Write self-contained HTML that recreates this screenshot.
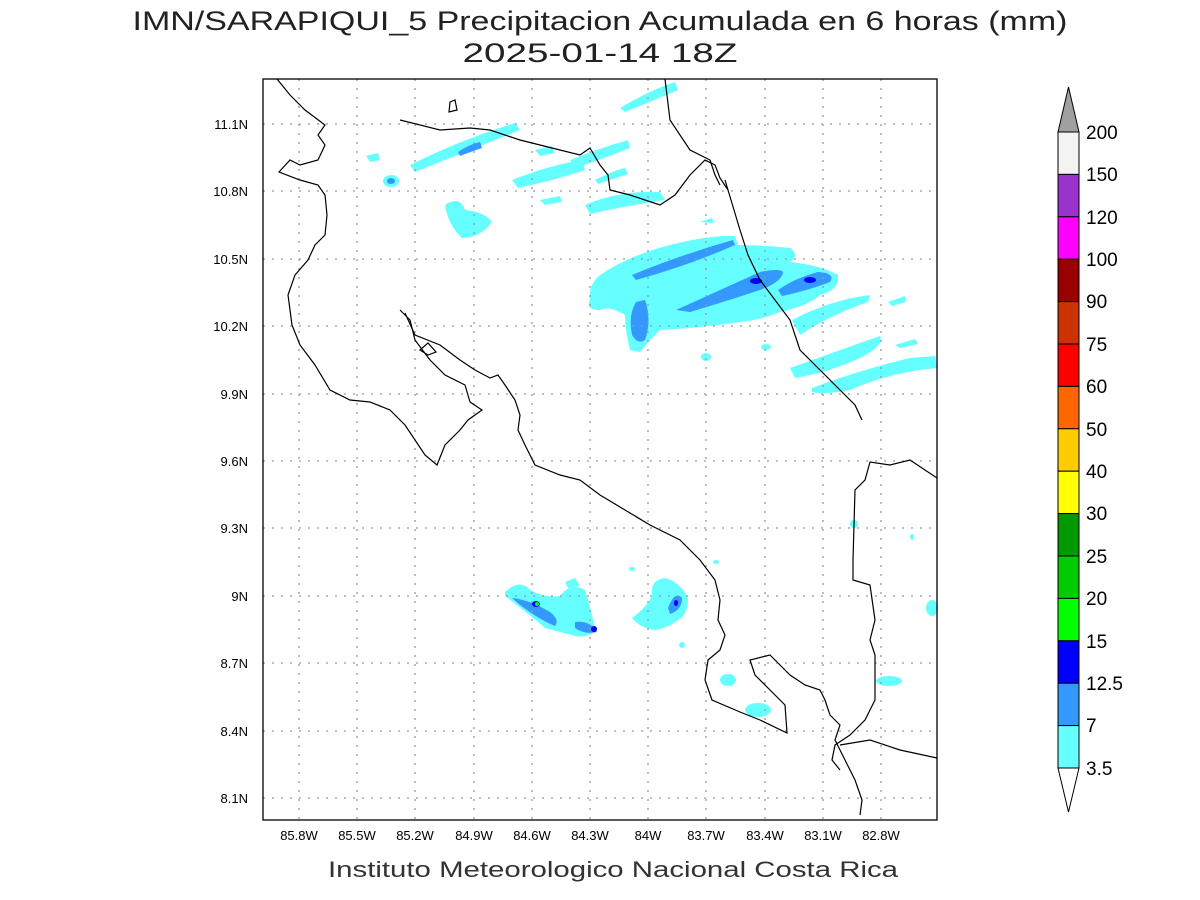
<!DOCTYPE html>
<html><head><meta charset="utf-8"><style>
body{margin:0;background:#fff;}
svg{display:block;font-family:"Liberation Sans",sans-serif;}
</style></head><body>
<svg width="1200" height="900" viewBox="0 0 1200 900" xmlns="http://www.w3.org/2000/svg">
<rect width="1200" height="900" fill="#fff"/>
<text x="600" y="30" font-size="27" text-anchor="middle" fill="#222" textLength="935" lengthAdjust="spacingAndGlyphs">IMN/SARAPIQUI_5 Precipitacion Acumulada en 6 horas (mm)</text>
<text x="600" y="62" font-size="27" text-anchor="middle" fill="#222" textLength="275" lengthAdjust="spacingAndGlyphs">2025-01-14 18Z</text>

<!-- precipitation -->
<g fill="#66ffff">
<path d="M620 108 Q650 90 675 82 L678 90 Q650 102 625 112Z"/>
<path d="M410 165 Q460 140 515 123 L520 130 Q470 150 415 172Z"/>
<path d="M366 156 L378 153 L380 160 L370 162Z"/>
<ellipse cx="391" cy="181" rx="8" ry="6"/>
<path d="M445 205 Q460 195 465 210 Q485 212 492 222 Q480 238 462 238 Q448 225 445 205Z"/>
<path d="M512 180 Q550 165 582 160 L585 170 Q555 180 518 188Z"/>
<path d="M535 150 L552 146 L554 153 L540 156Z"/>
<path d="M570 160 Q600 148 628 140 L630 148 Q600 160 575 168Z"/>
<path d="M595 180 Q615 170 625 168 L628 174 Q610 180 598 184Z"/>
<path d="M585 205 Q620 190 660 192 L665 200 Q630 205 590 214Z"/>
<path d="M540 200 L560 196 L562 202 L545 205Z"/>
<path d="M700 222 L712 218 L714 223 Z"/>
<path d="M590 300 Q588 285 600 275 Q630 255 670 245 Q710 235 735 236 L738 245 Q760 245 790 248 Q800 255 790 262 Q820 265 838 275 Q840 290 820 295 Q810 305 780 312 Q760 320 740 322 Q700 328 660 330 Q645 345 640 352 L630 350 Q625 330 625 315 Q608 305 600 310 Q585 310 590 300Z"/>
<path d="M792 320 Q830 300 870 295 L868 302 Q830 315 800 335Z"/>
<path d="M888 302 L905 296 L906 302 L892 306Z"/>
<path d="M790 368 Q840 350 880 336 Q885 345 860 358 Q830 372 795 378Z"/>
<path d="M812 388 Q860 370 910 358 L935 356 L937 368 Q890 372 850 390 Q825 395 812 392Z"/>
<path d="M895 345 L915 339 L918 344 L900 348Z"/>
<ellipse cx="706" cy="357" rx="5" ry="4"/>
<ellipse cx="766" cy="347" rx="5" ry="3"/>
<path d="M505 592 Q520 578 530 590 Q545 598 560 596 Q570 582 585 590 Q592 612 595 630 Q590 638 575 636 Q560 632 545 628 Q530 615 505 596Z"/>
<path d="M565 582 L575 578 L580 586 L568 588Z"/>
<path d="M632 618 Q648 606 652 595 Q650 580 665 578 Q680 582 688 598 Q688 615 678 620 Q668 628 655 630 Q640 628 632 618Z"/>
<ellipse cx="728" cy="680" rx="8" ry="6"/>
<ellipse cx="758" cy="710" rx="13" ry="7"/>
<ellipse cx="854" cy="524" rx="4" ry="4"/>
<ellipse cx="889" cy="681" rx="13" ry="5"/>
<ellipse cx="932" cy="608" rx="6" ry="8"/>
<ellipse cx="682" cy="645" rx="3" ry="3"/>
<ellipse cx="632" cy="569" rx="3" ry="2"/>
<ellipse cx="716" cy="562" rx="3" ry="2"/>
<ellipse cx="912" cy="537" rx="2" ry="3"/>
</g>
<g fill="#3399ff">
<path d="M458 152 Q470 144 480 142 L482 148 Q470 152 460 156Z"/>
<ellipse cx="391" cy="181" rx="4" ry="3"/>
<path d="M632 275 Q680 255 733 240 L735 245 Q690 265 636 280Z"/>
<path d="M676 310 Q720 290 760 272 Q780 268 783 272 Q782 282 760 290 Q730 300 690 312Z"/>
<path d="M778 290 Q795 278 818 272 Q836 273 830 282 Q810 290 782 296Z"/>
<path d="M636 302 Q628 315 632 335 Q638 345 645 340 Q652 320 645 300Z"/>
<path d="M512 598 Q530 600 550 612 Q560 620 555 626 Q540 620 520 605Z"/>
<path d="M575 622 Q590 620 597 632 Q585 635 575 628Z"/>
<path d="M668 608 Q675 590 682 598 Q682 610 670 614Z"/>
</g>
<g fill="#0000ff">
<ellipse cx="756" cy="281" rx="6" ry="3"/>
<ellipse cx="810" cy="280" rx="6" ry="3"/>
<ellipse cx="536" cy="604" rx="4" ry="3"/>
<ellipse cx="594" cy="629" rx="3" ry="3"/>
<ellipse cx="676" cy="603" rx="2" ry="3"/>
</g>
<ellipse cx="537" cy="604" rx="2" ry="2" fill="#00ff00"/>

<!-- grid -->
<g stroke="#999" stroke-width="1.3" stroke-dasharray="2,7">
<line x1="299" y1="79" x2="299" y2="820"/><line x1="357" y1="79" x2="357" y2="820"/><line x1="415" y1="79" x2="415" y2="820"/><line x1="474" y1="79" x2="474" y2="820"/><line x1="532" y1="79" x2="532" y2="820"/><line x1="590" y1="79" x2="590" y2="820"/><line x1="648" y1="79" x2="648" y2="820"/><line x1="706" y1="79" x2="706" y2="820"/><line x1="765" y1="79" x2="765" y2="820"/><line x1="823" y1="79" x2="823" y2="820"/><line x1="881" y1="79" x2="881" y2="820"/>
<line x1="263" y1="124" x2="937" y2="124"/><line x1="263" y1="191" x2="937" y2="191"/><line x1="263" y1="259" x2="937" y2="259"/><line x1="263" y1="326" x2="937" y2="326"/><line x1="263" y1="394" x2="937" y2="394"/><line x1="263" y1="461" x2="937" y2="461"/><line x1="263" y1="528" x2="937" y2="528"/><line x1="263" y1="596" x2="937" y2="596"/><line x1="263" y1="663" x2="937" y2="663"/><line x1="263" y1="731" x2="937" y2="731"/><line x1="263" y1="798" x2="937" y2="798"/>
</g>

<!-- coastlines -->
<g fill="none" stroke="#000" stroke-width="1.2">
<path d="M277 79 L290 95 L305 110 L325 125 L318 135 L325 145 L318 160 L300 165 L290 160 L279 172 L300 180 L318 185 L325 195 L327 215 L325 235 L315 245 L308 260 L295 275 L288 295 L292 325 L300 345 L315 365 L330 390 L350 400 L370 402 L390 410 L405 425 L425 455 L437 465 L445 445 L460 430 L468 420 L482 410 L470 402 L465 385 L445 375 L430 360 L415 340 L410 320 L400 310"/>
<path d="M405 313 L415 335 L440 345 L460 360 L475 370 L490 378 L498 375 L505 385 L515 400 L520 415 L518 430 L525 445 L535 465 L560 475 L580 480 L600 495 L625 510 L650 525 L680 540 L700 560 L715 580 L720 600 L718 620 L725 635 L720 650 L708 660 L705 680 L712 700 L740 712 L760 720 L787 733 L785 705 L770 690 L755 675 L750 660 L770 655 L790 675 L805 685 L820 690 L825 700 L830 715 L840 725 L835 740 L845 760 L855 780 L862 800 L860 815"/>
<path d="M420 350 L428 343 L436 352 L428 355Z"/>
<path d="M450 102 L455 100 L457 110 L449 112Z"/>
<path d="M400 120 L440 130 L470 128 L490 130 L520 140 L560 150 L580 155 L590 148 L600 165 L608 175 L610 190 L630 195 L645 200 L660 205 L675 195 L690 175 L705 160 L715 165 L720 178 L728 190"/>
<path d="M665 79 L670 120 L690 150 L710 160 L715 175 L720 185"/>
<path d="M725 180 L740 230 L748 255 L760 280 L775 300 L790 320 L800 350 L820 370 L830 380 L845 395 L855 405 L862 420"/>
<path d="M937 478 L910 460 L890 465 L870 462 L865 480 L855 490 L853 560 L853 580 L870 585 L875 620 L870 640 L875 655 L875 700 L865 720 L850 735 L835 745 L832 760 L840 770"/>
<path d="M840 745 L870 740 L900 750 L937 758"/>
</g>
<rect x="263" y="79" width="674" height="741" fill="none" stroke="#000" stroke-width="1.3"/>

<!-- axis labels -->
<g font-size="13" fill="#000" text-anchor="middle">
<text x="299" y="840">85.8W</text><text x="357" y="840">85.5W</text><text x="415" y="840">85.2W</text><text x="474" y="840">84.9W</text><text x="532" y="840">84.6W</text><text x="590" y="840">84.3W</text><text x="648" y="840">84W</text><text x="706" y="840">83.7W</text><text x="765" y="840">83.4W</text><text x="823" y="840">83.1W</text><text x="881" y="840">82.8W</text>
</g>
<g font-size="13" fill="#000" text-anchor="end">
<text x="248" y="129">11.1N</text><text x="248" y="196">10.8N</text><text x="248" y="264">10.5N</text><text x="248" y="331">10.2N</text><text x="248" y="399">9.9N</text><text x="248" y="466">9.6N</text><text x="248" y="533">9.3N</text><text x="248" y="601">9N</text><text x="248" y="668">8.7N</text><text x="248" y="736">8.4N</text><text x="248" y="803">8.1N</text>
</g>
<text x="613" y="877" font-size="22" text-anchor="middle" fill="#333" textLength="570" lengthAdjust="spacingAndGlyphs">Instituto Meteorologico Nacional Costa Rica</text>

<!-- colorbar -->
<g stroke="#000" stroke-width="1">
<path d="M1068.5 87 L1079 132 L1058 132Z" fill="#a0a0a0"/>
<rect x="1058" y="132" width="21" height="42.4" fill="#f3f3f3"/>
<rect x="1058" y="174.4" width="21" height="42.4" fill="#9933cc"/>
<rect x="1058" y="216.8" width="21" height="42.4" fill="#ff00ff"/>
<rect x="1058" y="259.2" width="21" height="42.4" fill="#990000"/>
<rect x="1058" y="301.6" width="21" height="42.4" fill="#cc3300"/>
<rect x="1058" y="344" width="21" height="42.4" fill="#ff0000"/>
<rect x="1058" y="386.4" width="21" height="42.4" fill="#ff6600"/>
<rect x="1058" y="428.8" width="21" height="42.4" fill="#ffcc00"/>
<rect x="1058" y="471.2" width="21" height="42.4" fill="#ffff00"/>
<rect x="1058" y="513.6" width="21" height="42.4" fill="#009900"/>
<rect x="1058" y="556" width="21" height="42.4" fill="#00cc00"/>
<rect x="1058" y="598.4" width="21" height="42.4" fill="#00ff00"/>
<rect x="1058" y="640.8" width="21" height="42.4" fill="#0000ff"/>
<rect x="1058" y="683.2" width="21" height="42.4" fill="#3399ff"/>
<rect x="1058" y="725.6" width="21" height="42.4" fill="#66ffff"/>
<path d="M1058 768 L1079 768 L1068.5 812Z" fill="#fff"/>
</g>
<g font-size="19" fill="#000">
<text x="1086" y="139">200</text><text x="1086" y="181">150</text><text x="1086" y="224">120</text><text x="1086" y="266">100</text><text x="1086" y="308">90</text><text x="1086" y="351">75</text><text x="1086" y="393">60</text><text x="1086" y="436">50</text><text x="1086" y="478">40</text><text x="1086" y="520">30</text><text x="1086" y="563">25</text><text x="1086" y="605">20</text><text x="1086" y="648">15</text><text x="1086" y="690">12.5</text><text x="1086" y="732">7</text><text x="1086" y="775">3.5</text>
</g>
</svg>
</body></html>
